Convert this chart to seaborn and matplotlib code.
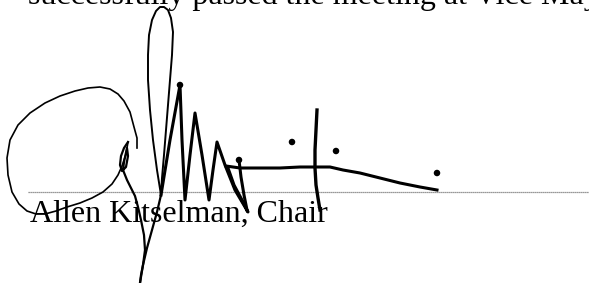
import matplotlib
matplotlib.use("Agg")
import matplotlib.pyplot as plt
import seaborn as sns
import pandas as pd

# text lines
top_text = "successfully passed the meeting at Vice Mayor"
name_text = "Allen Kitselman, Chair"

# signature strokes, in page pixels (x right, y down)
loop_x = [137, 137, 134, 130, 124, 118, 110, 100, 88, 75, 60, 45, 30, 18, 10, 7, 8, 12, 19, 27, 36, 45, 56, 67, 80, 92, 103, 112, 118, 122, 126, 128]
loop_y = [148, 138, 127, 112, 101, 94, 89, 87, 88, 91, 96, 103, 113, 125, 140, 158, 175, 192, 204, 211, 214, 214, 211, 207, 203, 198, 192, 184, 175, 166, 154, 142]

q_x = [128, 124, 121, 120, 122, 126, 128, 127, 124, 123, 127, 131, 135, 138, 141, 144, 145, 143, 141, 140]
q_y = [142, 148, 156, 165, 171, 167, 156, 148, 162, 170, 180, 188, 196, 207, 220, 235, 250, 265, 275, 283]

top_x = [161, 157, 153, 150, 148, 148, 149, 152, 156, 160, 164, 168, 171, 173, 172, 170, 168, 166, 164, 162, 161]
top_y = [195, 170, 140, 110, 80, 55, 35, 20, 11, 7, 7, 10, 18, 32, 55, 80, 105, 130, 155, 178, 195]

tail_x = [161, 157, 152, 147, 143, 140]
tail_y = [195, 212, 230, 248, 265, 283]

m_x = [161, 170, 180, 182, 185, 190, 195, 202, 209, 213, 217, 225, 235, 248, 242, 234, 228]
m_y = [195, 140, 85, 140, 200, 155, 113, 155, 200, 170, 142, 165, 190, 212, 200, 185, 168]

stem_x = [239, 241, 244, 247]
stem_y = [160, 177, 195, 210]

dash_x = [226, 240, 260, 280, 300, 315, 330, 343, 360, 380, 400, 420, 437]
dash_y = [166, 168, 168, 168, 167, 167, 167, 170, 173, 178, 183, 187, 190]

bar_x = [317, 316, 315, 315, 316, 318, 320]
bar_y = [110, 130, 150, 168, 185, 198, 210]

dot_x = [292, 336, 437, 180, 239]
dot_y = [142, 151, 173, 85, 160]

rule_x = [28, 589]
rule_y = [192, 192]

fig = plt.figure(figsize=(5.89, 2.83), dpi=100)
ax = fig.add_axes([0, 0, 1, 1])
ax.set_xlim(0, 589)
ax.set_ylim(283, 0)
ax.axis("off")

# signature line
sns.lineplot(x=rule_x, y=rule_y, ax=ax, color="#777777", lw=0.9, linestyle=(0, (1, 0.6)), sort=False, estimator=None)

# signature
sns.lineplot(x=loop_x, y=loop_y, ax=ax, color="black", lw=1.2, sort=False, estimator=None)
sns.lineplot(x=q_x, y=q_y, ax=ax, color="black", lw=1.6, sort=False, estimator=None)
sns.lineplot(x=top_x, y=top_y, ax=ax, color="black", lw=1.4, sort=False, estimator=None)
sns.lineplot(x=tail_x, y=tail_y, ax=ax, color="black", lw=1.6, sort=False, estimator=None)
sns.lineplot(x=m_x, y=m_y, ax=ax, color="black", lw=2.2, sort=False, estimator=None)
sns.lineplot(x=stem_x, y=stem_y, ax=ax, color="black", lw=2.2, sort=False, estimator=None)
sns.lineplot(x=dash_x, y=dash_y, ax=ax, color="black", lw=2.2, sort=False, estimator=None)
sns.lineplot(x=bar_x, y=bar_y, ax=ax, color="black", lw=2.4, sort=False, estimator=None)
sns.scatterplot(x=dot_x, y=dot_y, ax=ax, color="black", s=22, edgecolor="none")

ax.text(28, 4, top_text, fontsize=23, family="Liberation Serif", va="baseline", ha="left", color="black")
ax.text(30, 222, name_text, fontsize=23, family="Liberation Serif", va="baseline", ha="left", color="black")

fig.savefig("out.png", dpi=100)
